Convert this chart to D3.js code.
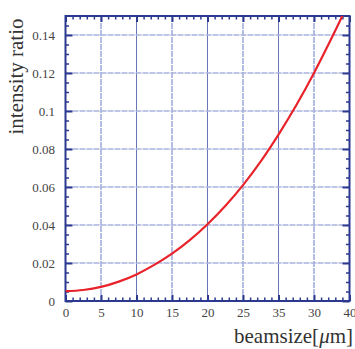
<!DOCTYPE html>
<html>
<head>
<meta charset="utf-8">
<script src="https://cdn.jsdelivr.net/npm/d3@7"></script>
<style>
  body { margin: 0; background: #fff; }
  svg { display: block; }
</style>
</head>
<body>
<div id="chart-container"></div>
<script>
// data
const beamsize = [0, 2.5, 5, 7.5, 10, 12.5, 15, 17.5, 20, 22.5, 25, 27.5, 30, 32.5, 35, 37.5, 40];
const intensity = [0.0052, 0.0058, 0.0074, 0.0102, 0.0140, 0.0190, 0.0249, 0.0320, 0.0404,
  0.0500, 0.0610, 0.0735, 0.0876, 0.1030, 0.1200, 0.1385, 0.1580];
const xTicks = [0, 5, 10, 15, 20, 25, 30, 35, 40];
const xTickLabels = ["0", "5", "10", "15", "20", "25", "35", "30", "40"];
const yTicks = [0, 0.02, 0.04, 0.06, 0.08, 0.1, 0.12, 0.14];
const yTickLabels = ["0", "0.02", "0.04", "0.06", "0.08", "0.1", "0.12", "0.14"];

// chart size
const W = 355, H = 349;
const margin = { top: 16, right: 5.5, bottom: 48, left: 65.5 };
const width = W - margin.left - margin.right;
const height = H - margin.top - margin.bottom;

const axisColor = "#2b3990";
const font = '"Liberation Serif"';

const xScale = d3.scaleLinear().domain([0, 40]).range([0, width]);
const yScale = d3.scaleLinear().domain([0, 0.15]).range([height, 0]);

const svg = d3.select("#chart-container")
  .append("svg")
  .attr("width", W)
  .attr("height", H);

const g = svg.append("g")
  .attr("transform", `translate(${margin.left},${margin.top})`);

// gridlines
g.selectAll(".xGrid")
  .data(xTicks.slice(1, -1))
  .join("line")
  .attr("class", "xGrid")
  .attr("x1", d => xScale(d))
  .attr("x2", d => xScale(d))
  .attr("y1", 0)
  .attr("y2", height)
  .attr("stroke", (d, i) => i % 2 ? "#6a75b8" : "#b6bde2")
  .attr("stroke-width", (d, i) => i % 2 ? 1 : 2)
  .attr("stroke-dasharray", (d, i) => i % 2 ? null : "6,1");

g.selectAll(".yGrid")
  .data(yTicks.slice(1))
  .join("line")
  .attr("class", "yGrid")
  .attr("x1", 0)
  .attr("x2", width)
  .attr("y1", d => yScale(d))
  .attr("y2", d => yScale(d))
  .attr("stroke", "#aab2dc")
  .attr("stroke-width", 1.6)
  .attr("stroke-dasharray", "6,1");

// minor ticks
const xMinor = d3.range(1, 40).filter(d => d % 5 !== 0);
const yMinor = d3.range(0.005, 0.15, 0.005).filter(d => Math.abs(d / 0.02 - Math.round(d / 0.02)) > 0.01);

function styleAxis(sel) {
  sel.select(".domain").remove();
  sel.selectAll(".tick line").attr("stroke", axisColor);
  sel.selectAll(".tick text")
    .attr("fill", "#444")
    .style("font-family", font)
    .style("font-size", "13px");
}

// bottom: labels + major ticks
g.append("g")
  .attr("transform", `translate(0,${height})`)
  .call(d3.axisBottom(xScale).tickValues(xTicks)
    .tickFormat((d, i) => xTickLabels[i]).tickSize(-6).tickPadding(7))
  .call(styleAxis)
  .selectAll(".tick line").attr("stroke-width", 2);

g.append("g")
  .attr("transform", `translate(0,${height})`)
  .call(d3.axisBottom(xScale).tickValues(xMinor).tickFormat("").tickSize(-3.5))
  .call(styleAxis)
  .selectAll(".tick line").attr("stroke-width", 1.5);

// top ticks
g.append("g")
  .call(d3.axisTop(xScale).tickValues(xTicks).tickFormat("").tickSize(-6))
  .call(styleAxis)
  .selectAll(".tick line").attr("stroke-width", 2);

g.append("g")
  .call(d3.axisTop(xScale).tickValues(xMinor).tickFormat("").tickSize(-3.5))
  .call(styleAxis)
  .selectAll(".tick line").attr("stroke-width", 1.5);

// left: labels + major ticks
g.append("g")
  .call(d3.axisLeft(yScale).tickValues(yTicks)
    .tickFormat((d, i) => yTickLabels[i]).tickSize(-7).tickPadding(10.5))
  .call(styleAxis)
  .selectAll(".tick line").attr("stroke-width", 2);

g.append("g")
  .call(d3.axisLeft(yScale).tickValues(yMinor).tickFormat("").tickSize(-3.5))
  .call(styleAxis)
  .selectAll(".tick line").attr("stroke-width", 1.5);

// right ticks
g.append("g")
  .attr("transform", `translate(${width},0)`)
  .call(d3.axisRight(yScale).tickValues(yTicks).tickFormat("").tickSize(-7))
  .call(styleAxis)
  .selectAll(".tick line").attr("stroke-width", 2);

g.append("g")
  .attr("transform", `translate(${width},0)`)
  .call(d3.axisRight(yScale).tickValues(yMinor).tickFormat("").tickSize(-3.5))
  .call(styleAxis)
  .selectAll(".tick line").attr("stroke-width", 1.5);

// frame
g.append("rect")
  .attr("x", 0)
  .attr("y", 0)
  .attr("width", width)
  .attr("height", height)
  .attr("fill", "none")
  .attr("stroke", axisColor)
  .attr("stroke-width", 2);

// curve, clipped to the plot
svg.append("clipPath")
  .attr("id", "plotClip")
  .append("rect")
  .attr("width", width)
  .attr("height", height);

const line = d3.line()
  .x((d, i) => xScale(beamsize[i]))
  .y(d => yScale(d))
  .curve(d3.curveMonotoneX);

g.append("path")
  .datum(intensity)
  .attr("clip-path", "url(#plotClip)")
  .attr("fill", "none")
  .attr("stroke", "#e8232b")
  .attr("stroke-width", 2.2)
  .attr("d", line);

// axis titles
svg.append("text")
  .attr("transform", "translate(23,76.5) rotate(-90)")
  .attr("text-anchor", "middle")
  .style("font-family", font)
  .style("font-size", "21px")
  .attr("fill", "#333")
  .text("intensity ratio");

const xTitle = svg.append("text")
  .attr("x", 353)
  .attr("y", 343)
  .attr("text-anchor", "end")
  .style("font-family", font)
  .style("font-size", "21px")
  .attr("fill", "#333");
xTitle.append("tspan").text("beamsize[");
xTitle.append("tspan").style("font-style", "italic").text("μ");
xTitle.append("tspan").text("m]");
</script>
</body>
</html>
